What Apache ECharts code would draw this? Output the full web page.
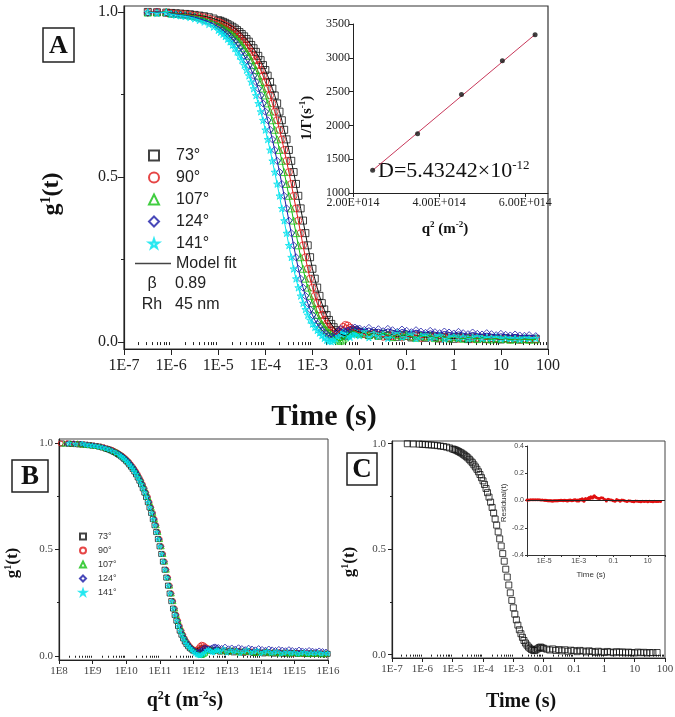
<!DOCTYPE html>
<html>
<head>
<meta charset="utf-8">
<script src="https://cdn.jsdelivr.net/npm/echarts@6.0.0/dist/echarts.min.js"></script>
<style>
  html, body { margin: 0; padding: 0; background: #fff; }
  #chart { width: 675px; height: 717px; }
</style>
</head>
<body>
<div id="chart"></div>
<script>
// delay times (s), shared by all angles
var lagTimes = [3.2e-7, 5.0e-7, 7.9e-7,
  1.0e-6, 1.26e-6, 1.58e-6, 2.0e-6, 2.51e-6, 3.16e-6, 3.98e-6, 5.01e-6, 6.31e-6, 7.94e-6,
  1.0e-5, 1.12e-5, 1.26e-5, 1.41e-5, 1.58e-5, 1.78e-5, 2.0e-5, 2.24e-5, 2.51e-5, 2.82e-5,
  3.16e-5, 3.55e-5, 3.98e-5, 4.47e-5, 5.01e-5, 5.62e-5, 6.31e-5, 7.08e-5, 7.94e-5, 8.91e-5,
  1.0e-4, 1.12e-4, 1.26e-4, 1.41e-4, 1.58e-4, 1.78e-4, 2.0e-4, 2.24e-4, 2.51e-4, 2.82e-4,
  3.16e-4, 3.55e-4, 3.98e-4, 4.47e-4, 5.01e-4, 5.62e-4, 6.31e-4, 7.08e-4, 7.94e-4, 8.91e-4,
  1.0e-3, 1.12e-3, 1.26e-3, 1.41e-3, 1.58e-3, 1.78e-3, 2.0e-3, 2.24e-3, 2.51e-3, 2.82e-3,
  3.16e-3, 3.55e-3, 3.98e-3, 4.47e-3, 5.01e-3, 5.62e-3, 6.31e-3, 7.08e-3, 7.94e-3, 8.91e-3,
  0.01, 0.0126, 0.0158, 0.02, 0.0251, 0.0316, 0.0398, 0.0501, 0.0631, 0.0794,
  0.1, 0.126, 0.158, 0.2, 0.251, 0.316, 0.398, 0.501, 0.631, 0.794,
  1, 1.26, 1.58, 2, 2.51, 3.16, 3.98, 5.01, 6.31, 7.94,
  10, 12.6, 15.8, 20, 25.1, 31.6, 39.8, 55];

var g73 = [1.000, 0.999, 0.998,
  0.997, 0.996, 0.995, 0.994, 0.993, 0.991, 0.989, 0.987, 0.984, 0.980,
  0.975, 0.973, 0.970, 0.967, 0.963, 0.959, 0.955, 0.950, 0.945, 0.939, 0.933, 0.926, 0.918, 0.910, 0.900, 0.890, 0.879, 0.867, 0.854, 0.839,
  0.824, 0.807, 0.788, 0.768, 0.747, 0.723, 0.698, 0.672, 0.643, 0.614, 0.582, 0.549, 0.515, 0.479, 0.443, 0.405, 0.368, 0.330, 0.293, 0.257,
  0.222, 0.192, 0.165, 0.140, 0.118, 0.099, 0.082, 0.067, 0.055, 0.045, 0.036, 0.030, 0.024, 0.021, 0.019, 0.023, 0.028, 0.033, 0.036, 0.032,
  0.030, 0.026, 0.022, 0.027, 0.020, 0.024, 0.018, 0.023, 0.016, 0.021, 0.019, 0.014, 0.020, 0.017, 0.013, 0.018, 0.015, 0.011, 0.016, 0.013,
  0.010, 0.015, 0.012, 0.009, 0.014, 0.011, 0.013, 0.009, 0.012, 0.010,
  0.008, 0.012, 0.009, 0.011, 0.008, 0.010, 0.009, 0.010];

var g90 = [0.999, 1.000, 0.998,
  0.996, 0.995, 0.994, 0.993, 0.991, 0.989, 0.987, 0.984, 0.980, 0.975,
  0.970, 0.967, 0.963, 0.959, 0.955, 0.950, 0.945, 0.939, 0.933, 0.926, 0.918, 0.910, 0.900, 0.890, 0.879, 0.867, 0.854, 0.839, 0.824, 0.807,
  0.788, 0.768, 0.747, 0.723, 0.698, 0.672, 0.643, 0.614, 0.582, 0.549, 0.515, 0.479, 0.443, 0.405, 0.368, 0.330, 0.293, 0.257, 0.222, 0.192,
  0.165, 0.140, 0.118, 0.099, 0.082, 0.067, 0.055, 0.045, 0.036, 0.030, 0.024, 0.028, 0.036, 0.046, 0.052, 0.050, 0.044, 0.038, 0.034, 0.030,
  0.028, 0.024, 0.020, 0.025, 0.022, 0.016, 0.021, 0.018, 0.023, 0.014, 0.019, 0.016, 0.020, 0.012, 0.017, 0.014, 0.018, 0.011, 0.015, 0.013,
  0.016, 0.010, 0.014, 0.012, 0.009, 0.013, 0.011, 0.008, 0.012, 0.010,
  0.009, 0.011, 0.008, 0.010, 0.007, 0.009, 0.008, 0.008];

var g107 = [0.998, 0.999, 1.000,
  0.995, 0.994, 0.993, 0.991, 0.989, 0.987, 0.984, 0.980, 0.975, 0.970,
  0.963, 0.959, 0.955, 0.950, 0.945, 0.939, 0.933, 0.926, 0.918, 0.910, 0.900, 0.890, 0.879, 0.867, 0.854, 0.839, 0.824, 0.807, 0.788, 0.768,
  0.747, 0.723, 0.698, 0.672, 0.643, 0.614, 0.582, 0.549, 0.515, 0.479, 0.443, 0.405, 0.368, 0.330, 0.293, 0.257, 0.222, 0.192, 0.165, 0.140,
  0.118, 0.099, 0.082, 0.067, 0.055, 0.045, 0.036, 0.030, 0.024, 0.016, 0.010, 0.005, 0.004, 0.008, 0.014, 0.022, 0.028, 0.034, 0.031, 0.027,
  0.024, 0.030, 0.021, 0.026, 0.019, 0.027, 0.023, 0.015, 0.022, 0.018, 0.025, 0.017, 0.013, 0.020, 0.016, 0.019, 0.012, 0.017, 0.014, 0.011,
  0.016, 0.013, 0.010, 0.014, 0.012, 0.009, 0.013, 0.010, 0.008, 0.012,
  0.009, 0.011, 0.007, 0.010, 0.008, 0.009, 0.007, 0.008];

var g124 = [0.997, 1.000, 0.998,
  0.994, 0.993, 0.991, 0.989, 0.987, 0.984, 0.980, 0.975, 0.970, 0.963,
  0.955, 0.950, 0.945, 0.939, 0.933, 0.926, 0.918, 0.910, 0.900, 0.890, 0.879, 0.867, 0.854, 0.839, 0.824, 0.807, 0.788, 0.768, 0.747, 0.723,
  0.698, 0.672, 0.643, 0.614, 0.582, 0.549, 0.515, 0.479, 0.443, 0.405, 0.368, 0.330, 0.293, 0.257, 0.222, 0.192, 0.165, 0.140, 0.118, 0.099,
  0.082, 0.067, 0.055, 0.045, 0.036, 0.030, 0.024, 0.019, 0.016, 0.020, 0.026, 0.034, 0.040, 0.036, 0.031, 0.035, 0.038, 0.042, 0.044, 0.040,
  0.041, 0.037, 0.043, 0.035, 0.039, 0.033, 0.040, 0.036, 0.031, 0.038, 0.034, 0.030, 0.036, 0.032, 0.028, 0.034, 0.030, 0.027, 0.032, 0.029,
  0.026, 0.031, 0.027, 0.024, 0.029, 0.025, 0.023, 0.027, 0.024, 0.021,
  0.025, 0.022, 0.020, 0.023, 0.020, 0.019, 0.021, 0.018];

var g141 = [1.000, 0.996, 0.999,
  0.993, 0.991, 0.989, 0.987, 0.984, 0.980, 0.975, 0.970, 0.963, 0.955,
  0.945, 0.939, 0.933, 0.926, 0.918, 0.910, 0.900, 0.890, 0.879, 0.867, 0.854, 0.839, 0.824, 0.807, 0.788, 0.768, 0.747, 0.723, 0.698, 0.672,
  0.643, 0.614, 0.582, 0.549, 0.515, 0.479, 0.443, 0.405, 0.368, 0.330, 0.293, 0.257, 0.222, 0.192, 0.165, 0.140, 0.118, 0.099, 0.082, 0.067,
  0.055, 0.045, 0.036, 0.028, 0.020, 0.012, 0.006, 0.003, 0.002, 0.005, 0.010, 0.018, 0.026, 0.030, 0.024, 0.018, 0.015, 0.022, 0.028, 0.025,
  0.020, 0.032, 0.014, 0.026, 0.018, 0.024, 0.012, 0.021, 0.028, 0.015, 0.019, 0.025, 0.011, 0.017, 0.022, 0.013, 0.016, 0.020, 0.010, 0.014,
  0.018, 0.012, 0.016, 0.010, 0.013, 0.017, 0.011, 0.014, 0.012, 0.015,
  0.010, 0.013, 0.011, 0.012, 0.009, 0.013, 0.011, 0.012];

// fit residual of the 73° curve (panel C inset)
var resid73 = [0.000, 0.002, 0.001,
  0.003, 0.004, 0.005, 0.006, 0.006, 0.005, 0.006, 0.005, 0.004, 0.003,
  0.002, 0.001, 0.001, 0.000, -0.001, -0.002, -0.001, -0.002, -0.002, -0.003, -0.003, -0.002, -0.002, -0.001, -0.001, -0.002, -0.001, 0.000, 0.000, 0.001,
  0.001, 0.000, -0.001, 0.001, 0.002, 0.000, -0.002, -0.003, 0.001, 0.002, 0.004, 0.001, -0.002, 0.000, 0.003, 0.004, 0.006, 0.002, -0.003, 0.004,
  -0.004, 0.005, 0.008, 0.003, 0.012, 0.006, -0.006, 0.009, 0.015, 0.008, 0.010, 0.016, 0.022, 0.014, 0.028, 0.020, 0.018, 0.030, 0.035, 0.026,
  0.024, 0.016, 0.012, 0.020, 0.018, 0.008, -0.004, 0.010, 0.006, 0.004, -0.002, -0.006, 0.008, 0.002, -0.005, 0.004, 0.002, -0.003, -0.008, -0.002,
  -0.003, -0.007, -0.009, -0.004, -0.006, -0.007, -0.010, -0.005, -0.008, -0.006,
  -0.010, -0.006, -0.008, -0.009, -0.005, -0.007, -0.008, -0.007];

// inset of A: decay rate vs q^2
var qSquared = [2.456e14, 3.50e14, 4.52e14, 5.47e14, 6.23e14];
var decayRate = [1335, 1875, 2458, 2958, 3340];
var fitQSquared = [2.456e14, 6.23e14];
var fitRate = [1335, 3345];

var angleNames = ['73°', '90°', '107°', '124°', '141°'];
var angleData = [g73, g90, g107, g124, g141];

// tick labels
var timeTickLabels = ['1E-7', '1E-6', '1E-5', '1E-4', '1E-3', '0.01', '0.1', '1', '10', '100'];
var q2tTickLabels = ['1E8', '1E9', '1E10', '1E11', '1E12', '1E13', '1E14', '1E15', '1E16'];
var gTickValues = [0, 0.5, 1];
var gTickLabels = ['0.0', '0.5', '1.0'];
var q2TickValues = [2e14, 4e14, 6e14];
var q2TickLabels = ['2.00E+014', '4.00E+014', '6.00E+014'];
var rateTickValues = [1000, 1500, 2000, 2500, 3000, 3500];
var residTickValues = [-0.4, -0.2, 0, 0.2, 0.4];
var residTickLabels = ['-0.4', '-0.2', '0.0', '0.2', '0.4'];
var insetTimeTicks = [1e-5, 1e-3, 0.1, 10];
var insetTimeLabels = ['1E-5', '1E-3', '0.1', '10'];

var colors = ['#111111', '#e01818', '#12c012', '#1c1ca8', '#00e4ee'];
var fills = ['rgba(255,255,255,0)', 'rgba(255,255,255,0)', 'rgba(255,255,255,0)', 'rgba(255,255,255,0)', 'rgba(0,228,238,0.45)'];
var starPath = 'path://M50,2 L61,36 L97,36 L68,57 L79,91 L50,70 L21,91 L32,57 L3,36 L39,36 Z';
var symbols = ['rect', 'circle', 'triangle', 'diamond', starPath];

var SERIF = 'Liberation Serif';
var SANS = 'Liberation Sans';

function pairs(xs, ys, scale) {
  return xs.map(function (x, i) { return [x * (scale || 1), ys[i]]; });
}
function decades(lo, hi) {
  var out = [];
  for (var k = lo; k <= hi; k++) out.push(Math.pow(10, k));
  return out;
}
function minorDecades(lo, hi) {
  var out = [];
  for (var k = lo; k < hi; k++) {
    for (var m = 2; m <= 9; m++) out.push(m * Math.pow(10, k));
  }
  return out;
}
function logIndex(v) { return Math.round(Math.log10(v)); }

function logAxis(grid, lo, hi, labels, fontSize, color, margin, tickLen) {
  return {
    type: 'log', logBase: 10, gridIndex: grid, position: 'bottom',
    min: Math.pow(10, lo), max: Math.pow(10, hi),
    axisLine: { show: true, onZero: false, lineStyle: { color: '#222', width: 1.2 } },
    axisTick: { show: true, inside: false, length: tickLen, customValues: decades(lo, hi), lineStyle: { color: '#222' } },
    axisLabel: {
      show: true, customValues: decades(lo, hi), margin: margin,
      fontFamily: SERIF, fontSize: fontSize, color: color,
      formatter: function (v) { return labels[logIndex(v) - lo]; }
    },
    splitLine: { show: false }
  };
}
function minorLogAxis(grid, lo, hi, tickLen) {
  return {
    type: 'log', logBase: 10, gridIndex: grid, position: 'bottom',
    min: Math.pow(10, lo), max: Math.pow(10, hi),
    axisLine: { show: false },
    axisTick: { show: true, inside: false, length: tickLen, customValues: minorDecades(lo, hi), lineStyle: { color: '#222' } },
    axisLabel: { show: false },
    splitLine: { show: false }
  };
}
function gAxis(grid, min, max, fontSize, color, tickLen) {
  return {
    type: 'value', gridIndex: grid, min: min, max: max, position: 'left',
    axisLine: { show: true, onZero: false, lineStyle: { color: '#222', width: 1.2 } },
    axisTick: { show: true, inside: false, length: tickLen, customValues: gTickValues, lineStyle: { color: '#222' } },
    axisLabel: {
      show: true, customValues: gTickValues, margin: 6,
      fontFamily: SERIF, fontSize: fontSize, color: color,
      formatter: function (v) { return gTickLabels[Math.round(v * 2)]; }
    },
    splitLine: { show: false }
  };
}
function gMinorAxis(grid, min, max, tickLen) {
  return {
    type: 'value', gridIndex: grid, min: min, max: max, position: 'left',
    axisLine: { show: false },
    axisTick: { show: true, inside: false, length: tickLen, customValues: [0.25, 0.75], lineStyle: { color: '#222' } },
    axisLabel: { show: false },
    splitLine: { show: false }
  };
}

var series = [];
// panel A markers
angleNames.forEach(function (name, k) {
  series.push({
    name: name, type: 'scatter', xAxisIndex: 0, yAxisIndex: 0,
    symbol: symbols[k], symbolSize: 7,
    itemStyle: { color: fills[k], borderColor: colors[k], borderWidth: 1 },
    data: pairs(lagTimes, angleData[k]), silent: true
  });
});
// panel A model fits
angleNames.forEach(function (name, k) {
  series.push({
    name: 'Model fit', type: 'line', xAxisIndex: 0, yAxisIndex: 0,
    symbol: 'none', showSymbol: false,
    lineStyle: { color: colors[k], width: 1 }, itemStyle: { color: colors[k] },
    data: pairs(lagTimes, angleData[k]), silent: true, z: 3
  });
});
// panel B: same curves against q^2 t
angleNames.forEach(function (name, k) {
  series.push({
    name: name, type: 'scatter', xAxisIndex: 3, yAxisIndex: 3,
    symbol: symbols[k], symbolSize: 5,
    itemStyle: { color: fills[k], borderColor: colors[k], borderWidth: 1 },
    data: pairs(lagTimes, angleData[k], qSquared[k]), silent: true
  });
});
// inset of A
series.push({
  name: 'rate', type: 'scatter', xAxisIndex: 2, yAxisIndex: 2,
  symbol: 'circle', symbolSize: 5, itemStyle: { color: '#111' },
  data: pairs(qSquared, decayRate), silent: true, z: 5
});
series.push({
  name: 'rate fit', type: 'line', xAxisIndex: 2, yAxisIndex: 2,
  symbol: 'none', lineStyle: { color: '#c8385a', width: 1 },
  data: pairs(fitQSquared, fitRate), silent: true, z: 4
});
// panel C
series.push({
  name: 'C 73°', type: 'scatter', xAxisIndex: 5, yAxisIndex: 5,
  symbol: 'rect', symbolSize: 6,
  itemStyle: { color: 'rgba(255,255,255,0)', borderColor: '#111', borderWidth: 1 },
  data: pairs(lagTimes, g73), silent: true
});
series.push({
  name: 'Residual', type: 'line', xAxisIndex: 7, yAxisIndex: 7,
  symbol: 'circle', symbolSize: 3, showSymbol: true,
  lineStyle: { color: '#e01010', width: 1.5 }, itemStyle: { color: '#e01010' },
  data: pairs(lagTimes, resid73), silent: true,
  markLine: {
    silent: true, symbol: 'none', label: { show: false },
    lineStyle: { color: '#222', width: 1, type: 'solid' },
    data: [{ yAxis: 0 }]
  }
});

var option = {
  backgroundColor: '#fff',
  animation: false,
  grid: [
    { left: 124, right: 127, top: 6, bottom: 368, show: true, borderColor: '#333', borderWidth: 1.2, outerBoundsMode: 'none' },
    { left: 353, right: 127, top: 24, bottom: 524, show: false, outerBoundsMode: 'none' },
    { left: 59, right: 347, top: 439, bottom: 57, show: true, borderColor: '#444', borderWidth: 1, outerBoundsMode: 'none' },
    { left: 392, right: 10, top: 441, bottom: 59, show: true, borderColor: '#444', borderWidth: 1, outerBoundsMode: 'none' },
    { left: 527, right: 10, top: 446, bottom: 162, show: false, outerBoundsMode: 'none' }
  ],
  xAxis: [
    logAxis(0, -7, 2, timeTickLabels, 16, '#222', 9, 6),
    minorLogAxis(0, -7, 2, 3),
    {
      type: 'value', gridIndex: 1, min: 2e14, max: 6.53e14, position: 'bottom',
      axisLine: { show: true, onZero: false, lineStyle: { color: '#222', width: 1 } },
      axisTick: { show: true, inside: false, length: 4, customValues: q2TickValues, lineStyle: { color: '#222' } },
      axisLabel: {
        customValues: q2TickValues, margin: 4, fontFamily: SERIF, fontSize: 12, color: '#222',
        formatter: function (v) { return q2TickLabels[Math.round(v / 2e14) - 1]; }
      },
      splitLine: { show: false }
    },
    logAxis(2, 8, 16, q2tTickLabels, 11, '#444', 6, 4),
    minorLogAxis(2, 8, 16, 2),
    logAxis(3, -7, 2, timeTickLabels, 11, '#444', 6, 4),
    minorLogAxis(3, -7, 2, 2),
    {
      type: 'log', logBase: 10, gridIndex: 4, min: 1e-6, max: 100, position: 'bottom',
      axisLine: { show: true, onZero: false, lineStyle: { color: '#333', width: 1 } },
      axisTick: { show: true, inside: false, length: 2, customValues: decades(-6, 2), lineStyle: { color: '#333' } },
      axisLabel: {
        customValues: insetTimeTicks, margin: 3, fontFamily: SANS, fontSize: 7, color: '#444',
        formatter: function (v) { return insetTimeLabels[(logIndex(v) + 5) / 2]; }
      },
      splitLine: { show: false }
    }
  ],
  yAxis: [
    gAxis(0, -0.021, 1.018, 16, '#222', 6),
    gMinorAxis(0, -0.021, 1.018, 3),
    {
      type: 'value', gridIndex: 1, min: 1000, max: 3500, position: 'left',
      axisLine: { show: true, onZero: false, lineStyle: { color: '#222', width: 1 } },
      axisTick: { show: true, inside: false, length: 4, customValues: rateTickValues, lineStyle: { color: '#222' } },
      axisLabel: {
        customValues: rateTickValues, margin: 3, fontFamily: SERIF, fontSize: 12, color: '#222',
        formatter: function (v) { return String(Math.round(v)); }
      },
      splitLine: { show: false }
    },
    gAxis(2, -0.02, 1.02, 11, '#444', 4),
    gMinorAxis(2, -0.02, 1.02, 2),
    gAxis(3, -0.016, 1.013, 11, '#444', 4),
    gMinorAxis(3, -0.016, 1.013, 2),
    {
      type: 'value', gridIndex: 4, min: -0.4, max: 0.4, position: 'left',
      axisLine: { show: true, onZero: false, lineStyle: { color: '#333', width: 1 } },
      axisTick: { show: true, inside: false, length: 2, customValues: residTickValues, lineStyle: { color: '#333' } },
      axisLabel: {
        customValues: residTickValues, margin: 3, fontFamily: SANS, fontSize: 7, color: '#444',
        formatter: function (v) { return residTickLabels[Math.round(v / 0.2) + 2]; }
      },
      splitLine: { show: false }
    }
  ],
  legend: [
    {
      data: angleNames, orient: 'vertical', left: 148, top: 147, padding: 0,
      itemWidth: 10, itemHeight: 10, itemGap: 5, selectedMode: false,
      textStyle: { fontFamily: SANS, fontSize: 16, lineHeight: 17, color: '#222', padding: [0, 0, 0, 12] }
    },
    {
      data: [{ name: 'Model fit', icon: 'rect', itemStyle: { color: '#444' } }],
      orient: 'vertical', left: 135, top: 255, padding: 0, itemWidth: 36, itemHeight: 1.5, selectedMode: false,
      textStyle: { fontFamily: SANS, fontSize: 16, lineHeight: 17, color: '#222' }
    },
    {
      data: angleNames, orient: 'vertical', left: 79, top: 531, padding: 0,
      itemWidth: 6, itemHeight: 6, itemGap: 3, selectedMode: false,
      textStyle: { fontFamily: SANS, fontSize: 9, lineHeight: 11, color: '#333', padding: [0, 0, 0, 7] }
    }
  ],
  graphic: [
    // panel letters
    { type: 'rect', shape: { x: 43, y: 28, width: 31, height: 34 }, style: { fill: '#fff', stroke: '#222', lineWidth: 1.5 } },
    { type: 'text', x: 58.5, y: 46, style: { text: 'A', align: 'center', verticalAlign: 'middle', font: 'bold 26px "Liberation Serif"', fill: '#111' } },
    { type: 'rect', shape: { x: 12, y: 460, width: 36, height: 32 }, style: { fill: '#fff', stroke: '#222', lineWidth: 1.5 } },
    { type: 'text', x: 30, y: 477, style: { text: 'B', align: 'center', verticalAlign: 'middle', font: 'bold 27px "Liberation Serif"', fill: '#111' } },
    { type: 'rect', shape: { x: 347, y: 453, width: 30, height: 32 }, style: { fill: '#fff', stroke: '#222', lineWidth: 1.5 } },
    { type: 'text', x: 362, y: 470, style: { text: 'C', align: 'center', verticalAlign: 'middle', font: 'bold 27px "Liberation Serif"', fill: '#111' } },

    // panel A titles
    {
      type: 'text', x: 52, y: 194, rotation: Math.PI / 2,
      style: {
        text: '{b|g}{s|1}{b|(t)}', align: 'center', verticalAlign: 'middle',
        rich: {
          b: { fontFamily: SERIF, fontWeight: 'bold', fontSize: 24, fill: '#111', lineHeight: 26 },
          s: { fontFamily: SERIF, fontWeight: 'bold', fontSize: 14, fill: '#111', verticalAlign: 'top', lineHeight: 26 }
        }
      }
    },
    { type: 'text', x: 324, y: 417, style: { text: 'Time (s)', align: 'center', verticalAlign: 'middle', font: 'bold 30px "Liberation Serif"', fill: '#111' } },
    { type: 'text', x: 152, y: 284, style: { text: 'β', align: 'center', verticalAlign: 'middle', font: '16px "Liberation Sans"', fill: '#222' } },
    { type: 'text', x: 175, y: 284, style: { text: '0.89', align: 'left', verticalAlign: 'middle', font: '16px "Liberation Sans"', fill: '#222' } },
    { type: 'text', x: 152, y: 305, style: { text: 'Rh', align: 'center', verticalAlign: 'middle', font: '16px "Liberation Sans"', fill: '#222' } },
    { type: 'text', x: 175, y: 305, style: { text: '45 nm', align: 'left', verticalAlign: 'middle', font: '16px "Liberation Sans"', fill: '#222' } },

    // inset of A
    {
      type: 'text', x: 307, y: 118, rotation: Math.PI / 2,
      style: {
        text: '{b|1/Γ(s}{s|-1}{b|)}', align: 'center', verticalAlign: 'middle',
        rich: {
          b: { fontFamily: SERIF, fontWeight: 'bold', fontSize: 15, fill: '#111', lineHeight: 17 },
          s: { fontFamily: SERIF, fontWeight: 'bold', fontSize: 9, fill: '#111', verticalAlign: 'top', lineHeight: 17 }
        }
      }
    },
    {
      type: 'text', x: 445, y: 229,
      style: {
        text: '{b|q}{s|2}{b| (m}{s|-2}{b|)}', align: 'center', verticalAlign: 'middle',
        rich: {
          b: { fontFamily: SERIF, fontWeight: 'bold', fontSize: 15, fill: '#111', lineHeight: 17 },
          s: { fontFamily: SERIF, fontWeight: 'bold', fontSize: 9, fill: '#111', verticalAlign: 'top', lineHeight: 17 }
        }
      }
    },
    {
      type: 'text', x: 378, y: 171,
      style: {
        text: '{b|D=5.43242×10}{s|-12}', align: 'left', verticalAlign: 'middle',
        rich: {
          b: { fontFamily: SERIF, fontSize: 22, fill: '#111', lineHeight: 24 },
          s: { fontFamily: SERIF, fontSize: 13, fill: '#111', verticalAlign: 'top', lineHeight: 24 }
        }
      }
    },

    // panel B titles
    {
      type: 'text', x: 13, y: 563, rotation: Math.PI / 2,
      style: {
        text: '{b|g}{s|1}{b|(t)}', align: 'center', verticalAlign: 'middle',
        rich: {
          b: { fontFamily: SERIF, fontWeight: 'bold', fontSize: 17, fill: '#111', lineHeight: 19 },
          s: { fontFamily: SERIF, fontWeight: 'bold', fontSize: 10, fill: '#111', verticalAlign: 'top', lineHeight: 19 }
        }
      }
    },
    {
      type: 'text', x: 185, y: 701,
      style: {
        text: '{b|q}{s|2}{b|t (m}{s|-2}{b|s)}', align: 'center', verticalAlign: 'middle',
        rich: {
          b: { fontFamily: SERIF, fontWeight: 'bold', fontSize: 20, fill: '#111', lineHeight: 22 },
          s: { fontFamily: SERIF, fontWeight: 'bold', fontSize: 12, fill: '#111', verticalAlign: 'top', lineHeight: 22 }
        }
      }
    },

    // panel C titles
    {
      type: 'text', x: 350, y: 562, rotation: Math.PI / 2,
      style: {
        text: '{b|g}{s|1}{b|(t)}', align: 'center', verticalAlign: 'middle',
        rich: {
          b: { fontFamily: SERIF, fontWeight: 'bold', fontSize: 17, fill: '#111', lineHeight: 19 },
          s: { fontFamily: SERIF, fontWeight: 'bold', fontSize: 10, fill: '#111', verticalAlign: 'top', lineHeight: 19 }
        }
      }
    },
    { type: 'text', x: 521, y: 702, style: { text: 'Time (s)', align: 'center', verticalAlign: 'middle', font: 'bold 20px "Liberation Serif"', fill: '#111' } },
    { type: 'text', x: 504, y: 503, rotation: Math.PI / 2, style: { text: 'Residual(t)', align: 'center', verticalAlign: 'middle', font: '8px "Liberation Sans"', fill: '#333' } },
    { type: 'text', x: 591, y: 575, style: { text: 'Time (s)', align: 'center', verticalAlign: 'middle', font: '8px "Liberation Sans"', fill: '#333' } }
  ],
  series: series
};

var chart = echarts.init(document.getElementById('chart'));
chart.setOption(option);
</script>
</body>
</html>
